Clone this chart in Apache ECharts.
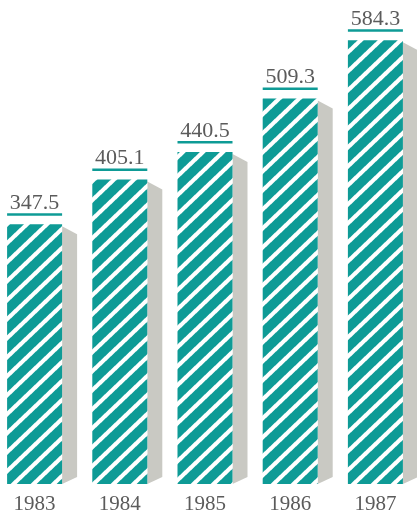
<!DOCTYPE html>
<html>
<head>
<meta charset="utf-8">
<script src="https://cdn.jsdelivr.net/npm/echarts@6/dist/echarts.min.js"></script>
<style>
html,body{margin:0;padding:0;background:#ffffff;}
#chart{width:417px;height:510px;}
</style>
</head>
<body>
<div id="chart"></div>
<script>
var years = ['1983', '1984', '1985', '1986', '1987'];
var values = [347.5, 405.1, 440.5, 509.3, 584.3];
var valueLabels = ['347.5', '405.1', '440.5', '509.3', '584.3'];

var TEAL = [14, 155, 150];
var SHADOW = '#c9c9c3';
var TEXT = '#5b5b5b';
var BASE = 13;

function makeStripe() {
  var w = 20, h = 19, fw = 0.3, ss = 4;
  var c = document.createElement('canvas');
  c.width = w; c.height = h;
  var ctx = c.getContext('2d');
  var img = ctx.createImageData(w, h);
  for (var y = 0; y < h; y++) {
    for (var x = 0; x < w; x++) {
      var cov = 0;
      for (var sy = 0; sy < ss; sy++) {
        for (var sx = 0; sx < ss; sx++) {
          var px = x + (sx + 0.5) / ss;
          var py = y + (sy + 0.5) / ss;
          var s = px / w + py / h;
          s = s - Math.floor(s);
          if (s < fw) cov++;
        }
      }
      var a = cov / (ss * ss);
      var k = (y * w + x) * 4;
      img.data[k] = Math.round(TEAL[0] * (1 - a) + 255 * a);
      img.data[k + 1] = Math.round(TEAL[1] * (1 - a) + 255 * a);
      img.data[k + 2] = Math.round(TEAL[2] * (1 - a) + 255 * a);
      img.data[k + 3] = 255;
    }
  }
  ctx.putImageData(img, 0, 0);
  return c;
}

var tealCss = 'rgb(' + TEAL.join(',') + ')';
var chart = echarts.init(document.getElementById('chart'), null, {renderer: 'canvas'});
var halfW = 27.5;

chart.setOption({
  backgroundColor: '#ffffff',
  animation: false,
  grid: {left: -8, right: -1, top: 0, bottom: 26, outerBoundsMode: 'none', containLabel: false},
  xAxis: {
    type: 'category',
    data: years,
    axisLine: {show: false},
    axisTick: {show: false},
    axisLabel: {
      margin: 10,
      fontFamily: 'Liberation Serif, serif',
      fontSize: 21,
      color: TEXT
    }
  },
  yAxis: {
    type: 'value',
    min: BASE,
    max: 636,
    show: false,
    splitLine: {show: false}
  },
  series: [
    {
      type: 'custom',
      z: 1,
      data: values.map(function (v, i) { return [i, v]; }),
      renderItem: function (params, api) {
        var i = api.value(0);
        var v = api.value(1);
        var top = api.coord([i, v]);
        var base = api.coord([i, BASE]);
        var cx = top[0];
        var ty = top[1];
        var by = base[1];
        var rx = cx + halfW;
        return {
          type: 'group',
          children: [
            {
              type: 'polygon',
              shape: {points: [[rx, ty + 2], [rx + 15, ty + 10], [rx + 15, by - 7], [rx, by]]},
              style: {fill: SHADOW}
            },
            {
              type: 'rect',
              shape: {x: cx - halfW, y: ty - 11, width: halfW * 2, height: 2.5},
              style: {fill: tealCss}
            },
            {
              type: 'text',
              style: {
                x: cx,
                y: ty - 21,
                text: valueLabels[params.dataIndex],
                fill: TEXT,
                fontFamily: 'Liberation Serif, serif',
                fontSize: 22,
                align: 'center',
                verticalAlign: 'middle'
              }
            }
          ]
        };
      }
    },
    {
      type: 'bar',
      z: 2,
      data: values,
      barWidth: 55,
      itemStyle: {
        color: {image: makeStripe(), repeat: 'repeat'}
      }
    }
  ]
});
</script>
</body>
</html>
